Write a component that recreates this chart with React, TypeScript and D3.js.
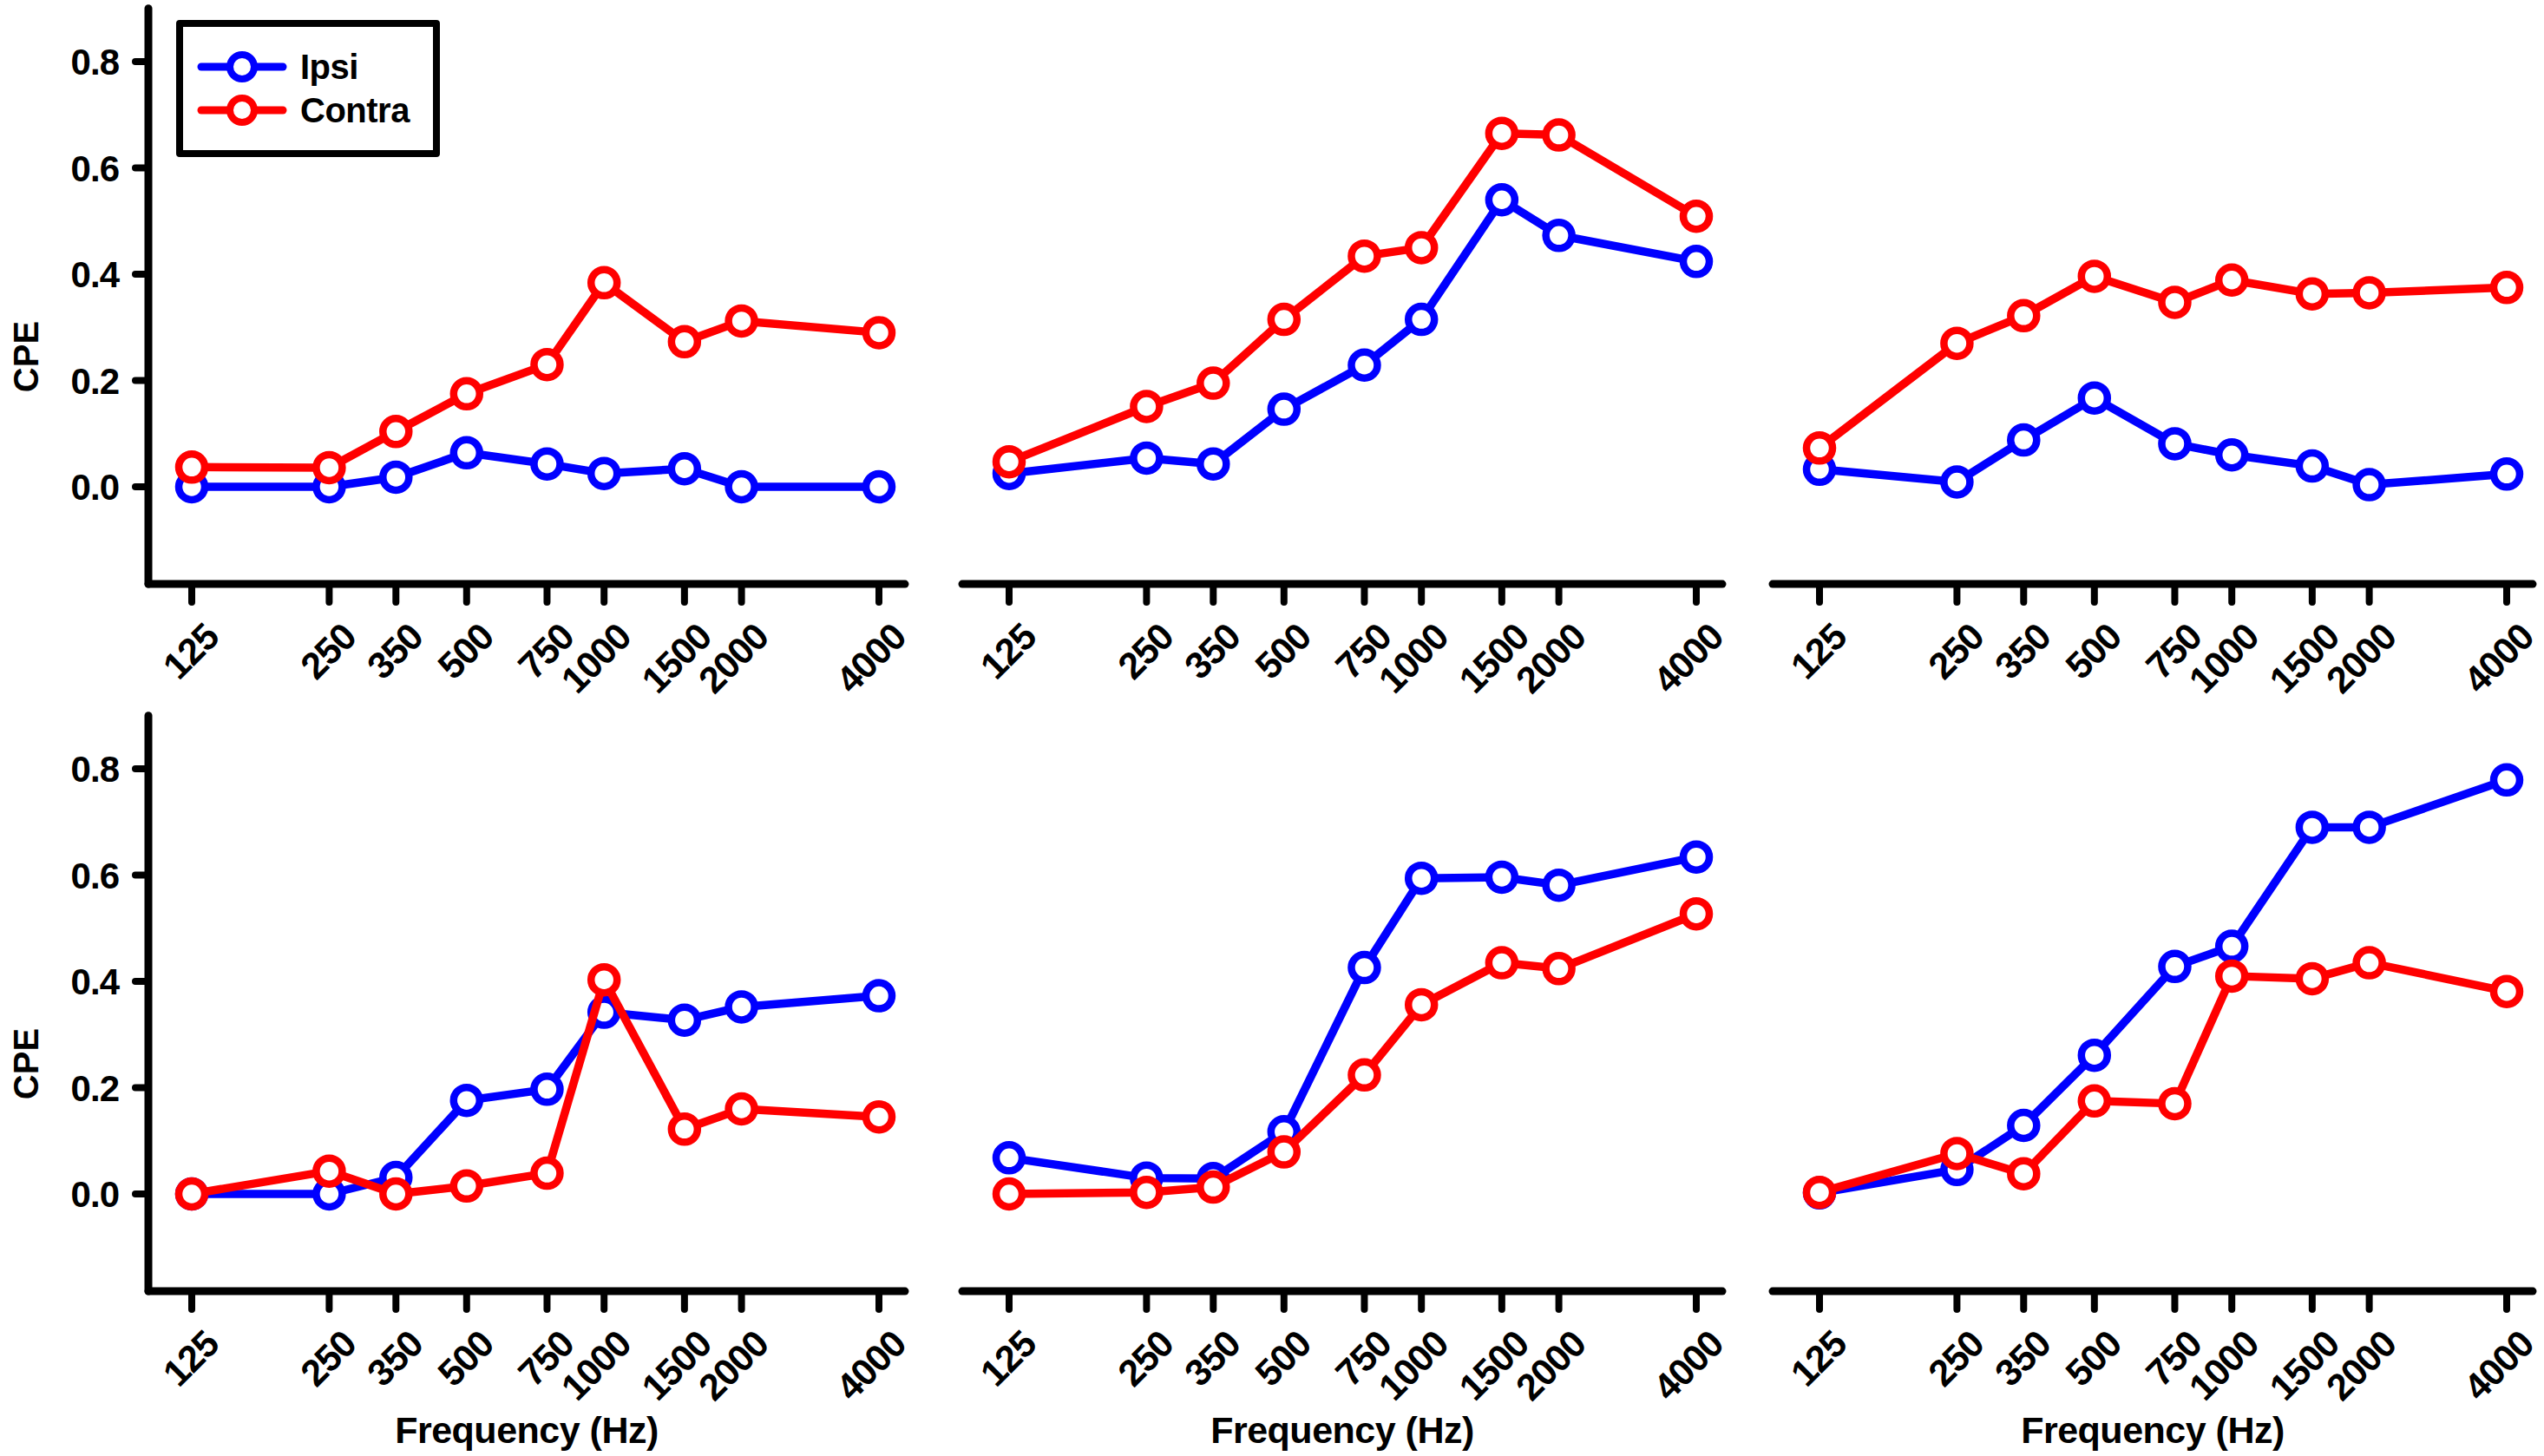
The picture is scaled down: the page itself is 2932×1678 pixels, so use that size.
import { useEffect, useRef } from "react"
import * as d3 from "d3"

// frequencies (Hz) and tick labels
const frequencies = [125, 250, 350, 500, 750, 1000, 1500, 2000, 4000]
const freqLabels = ["125", "250", "350", "500", "750", "1000", "1500", "2000", "4000"]
const yTicks = [0, 0.2, 0.4, 0.6, 0.8]
const yTickLabels = ["0.0", "0.2", "0.4", "0.6", "0.8"]

// CPE values per panel
const ipsiA = [0, 0, 0.018, 0.064, 0.043, 0.025, 0.034, 0, 0]
const contraA = [0.037, 0.036, 0.104, 0.175, 0.23, 0.384, 0.273, 0.312, 0.29]
const ipsiB = [0.025, 0.054, 0.043, 0.146, 0.229, 0.315, 0.54, 0.473, 0.424]
const contraB = [0.047, 0.151, 0.195, 0.315, 0.434, 0.45, 0.665, 0.662, 0.509]
const ipsiC = [0.033, 0.009, 0.088, 0.167, 0.081, 0.06, 0.039, 0.004, 0.024]
const contraC = [0.073, 0.27, 0.322, 0.396, 0.347, 0.389, 0.363, 0.365, 0.375]
const ipsiD = [0, 0, 0.031, 0.176, 0.197, 0.342, 0.327, 0.352, 0.373]
const contraD = [0, 0.043, 0, 0.015, 0.039, 0.403, 0.122, 0.16, 0.145]
const ipsiE = [0.068, 0.03, 0.029, 0.117, 0.426, 0.594, 0.596, 0.581, 0.634]
const contraE = [0, 0.003, 0.013, 0.079, 0.224, 0.356, 0.435, 0.424, 0.527]
const ipsiF = [0.002, 0.046, 0.129, 0.261, 0.428, 0.466, 0.69, 0.69, 0.779]
const contraF = [0.003, 0.076, 0.038, 0.175, 0.17, 0.41, 0.405, 0.435, 0.381]

const panels = [
  { row: 0, col: 0, ipsi: ipsiA, contra: contraA },
  { row: 0, col: 1, ipsi: ipsiB, contra: contraB },
  { row: 0, col: 2, ipsi: ipsiC, contra: contraC },
  { row: 1, col: 0, ipsi: ipsiD, contra: contraD },
  { row: 1, col: 1, ipsi: ipsiE, contra: contraE },
  { row: 1, col: 2, ipsi: ipsiF, contra: contraF },
]

const BLUE = "#0000ff"
const RED = "#ff0000"
const FONT = "'Liberation Sans', Arial, sans-serif"

export default function App() {
  const svgRef = useRef(null)

  useEffect(() => {
    if (!svgRef.current) return
    const svg = d3.select(svgRef.current)
    svg.selectAll("*").remove()

    const width = 2932
    const height = 1678
    const colStart = [221, 1163, 2097] // x of 125 Hz in each column
    const span = 792
    const rowZero = [561, 1376]

    panels.forEach((p) => {
      const x0 = colStart[p.col]
      const x = d3.scaleLog().domain([125, 4000]).range([x0, x0 + span])
      const zero = rowZero[p.row]
      const y = d3.scaleLinear().domain([0, 0.8]).range([zero, zero - 490])
      const axisY = y(-0.183)
      const left = p.col === 0 ? 171 : x0 - 54
      const right = x0 + span + 30

      const g = svg.append("g")

      // x axis
      g.append("line")
        .attr("x1", left).attr("x2", right)
        .attr("y1", axisY).attr("y2", axisY)
        .attr("stroke", "black").attr("stroke-width", 9).attr("stroke-linecap", "round")

      g.selectAll(".xtick")
        .data(frequencies)
        .enter()
        .append("line")
        .attr("x1", (d) => x(d)).attr("x2", (d) => x(d))
        .attr("y1", axisY).attr("y2", axisY + 21)
        .attr("stroke", "black").attr("stroke-width", 8).attr("stroke-linecap", "round")

      g.selectAll(".xlabel")
        .data(frequencies)
        .enter()
        .append("text")
        .attr("transform", (d) => `translate(${x(d) + 12},${axisY + 42}) rotate(-45)`)
        .attr("text-anchor", "end")
        .attr("dy", "0.71em")
        .attr("font-family", FONT)
        .attr("font-weight", "bold")
        .attr("font-size", 43)
        .attr("letter-spacing", -1)
        .text((d, i) => freqLabels[i])

      // y axis only in the left column
      if (p.col === 0) {
        g.append("line")
          .attr("x1", 171).attr("x2", 171)
          .attr("y1", y(0.9)).attr("y2", axisY)
          .attr("stroke", "black").attr("stroke-width", 9).attr("stroke-linecap", "round")

        g.selectAll(".ytick")
          .data(yTicks)
          .enter()
          .append("line")
          .attr("x1", 171).attr("x2", 156)
          .attr("y1", (d) => y(d)).attr("y2", (d) => y(d))
          .attr("stroke", "black").attr("stroke-width", 8).attr("stroke-linecap", "round")

        g.selectAll(".ylabel")
          .data(yTicks)
          .enter()
          .append("text")
          .attr("x", 137)
          .attr("y", (d) => y(d))
          .attr("dy", "0.36em")
          .attr("text-anchor", "end")
          .attr("font-family", FONT)
          .attr("font-weight", "bold")
          .attr("font-size", 42)
          .attr("letter-spacing", -1)
          .text((d, i) => yTickLabels[i])

        g.append("text")
          .attr("transform", `translate(44,${y(0.4) + 95}) rotate(-90)`)
          .attr("text-anchor", "middle")
          .attr("font-family", FONT)
          .attr("font-weight", "bold")
          .attr("font-size", 40)
          .text("CPE")
      }

      if (p.row === 1) {
        g.append("text")
          .attr("x", (left + right) / 2)
          .attr("y", 1663)
          .attr("text-anchor", "middle")
          .attr("font-family", FONT)
          .attr("font-weight", "bold")
          .attr("font-size", 43)
          .attr("letter-spacing", -0.5)
          .text("Frequency (Hz)")
      }

      const line = d3.line<number>()
        .x((d, i) => x(frequencies[i]))
        .y((d) => y(d))

      const series = [
        { values: p.ipsi, color: BLUE },
        { values: p.contra, color: RED },
      ]
      series.forEach((s) => {
        g.append("path")
          .datum(s.values)
          .attr("d", line)
          .attr("fill", "none")
          .attr("stroke", s.color)
          .attr("stroke-width", 9.5)
          .attr("stroke-linejoin", "round")
          .attr("stroke-linecap", "round")

        g.selectAll(null)
          .data(s.values)
          .enter()
          .append("circle")
          .attr("cx", (d, i) => x(frequencies[i]))
          .attr("cy", (d) => y(d))
          .attr("r", 15)
          .attr("fill", "white")
          .attr("stroke", s.color)
          .attr("stroke-width", 8.5)
      })
    })

    // legend
    const legend = svg.append("g")
    legend.append("rect")
      .attr("x", 207).attr("y", 27)
      .attr("width", 296).attr("height", 150)
      .attr("fill", "white")
      .attr("stroke", "black").attr("stroke-width", 8).attr("stroke-linejoin", "round")

    const legendItems = [
      { label: "Ipsi", color: BLUE },
      { label: "Contra", color: RED },
    ]
    legendItems.forEach((item, i) => {
      const ly = 77 + i * 50
      legend.append("line")
        .attr("x1", 232).attr("x2", 326)
        .attr("y1", ly).attr("y2", ly)
        .attr("stroke", item.color).attr("stroke-width", 9).attr("stroke-linecap", "round")
      legend.append("circle")
        .attr("cx", 279).attr("cy", ly).attr("r", 14)
        .attr("fill", "white")
        .attr("stroke", item.color).attr("stroke-width", 8)
      legend.append("text")
        .attr("x", 346).attr("y", ly + 14)
        .attr("font-family", FONT)
        .attr("font-weight", "bold")
        .attr("font-size", 40)
        .attr("letter-spacing", -0.5)
        .text(item.label)
    })

    svg
      .attr("width", width)
      .attr("height", height)
      .attr("viewBox", [0, 0, width, height])
  }, [])

  return (
    <div style={{ position: "absolute", left: 0, top: 0, background: "white" }}>
      <svg ref={svgRef} style={{ display: "block" }}></svg>
    </div>
  )
}
